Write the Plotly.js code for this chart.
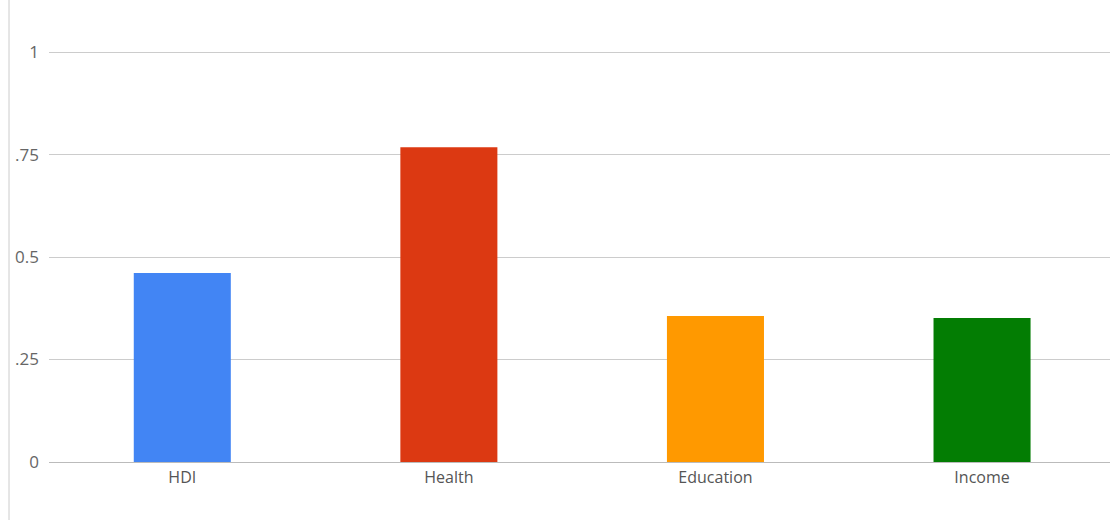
<!DOCTYPE html>
<html>
<head>
<meta charset="utf-8">
<script src="https://cdn.plot.ly/plotly-3.0.1.min.js"></script>
<style>html,body{margin:0;padding:0;background:#fff;}#chart{width:1110px;height:520px;}</style>
</head>
<body>
<div id="chart"></div>
<script>
const categories = ["HDI", "Health", "Education", "Income"];
const values = [0.461, 0.768, 0.356, 0.351];
const barColors = ["#4285f4", "#dc3912", "#ff9900", "#037d03"];
const yTickVals = [0, 0.25, 0.5, 0.75, 1];
const yTickText = ["0", ".25", "0.5", ".75", "1"];

const trace = {
  type: "bar",
  x: categories,
  y: values,
  width: 0.364,
  marker: {color: barColors, line: {width: 0}},
  hoverinfo: "x+y"
};

const layout = {
  width: 1110, height: 520,
  margin: {l: 49, r: 0, t: 48, b: 58},
  paper_bgcolor: "#ffffff",
  plot_bgcolor: "#ffffff",
  showlegend: false,
  font: {family: "Open Sans, DejaVu Sans, sans-serif", size: 16, color: "#555"},
  xaxis: {
    range: [-0.5, 3.48],
    showgrid: false, zeroline: false, showline: false,
    ticks: "", ticklabelstandoff: 4,
    tickfont: {size: 16, color: "#555"},
    fixedrange: true
  },
  yaxis: {
    range: [0, 1.01],
    tickvals: yTickVals, ticktext: yTickText,
    showgrid: true, gridcolor: "#cccccc", gridwidth: 1,
    zeroline: true, zerolinecolor: "#bbbbbb", zerolinewidth: 1,
    showline: false, ticks: "",
    ticklabelstandoff: 9,
    tickfont: {size: 17, color: "#666"},
    fixedrange: true
  },
  shapes: [{
    type: "line", xref: "paper", yref: "paper",
    x0: -40/1061, x1: -40/1061, y0: -58/414, y1: 466/414,
    line: {color: "#cccccc", width: 1}
  }]
};

Plotly.newPlot("chart", [trace], layout, {displayModeBar: false, staticPlot: true});
</script>
</body>
</html>
